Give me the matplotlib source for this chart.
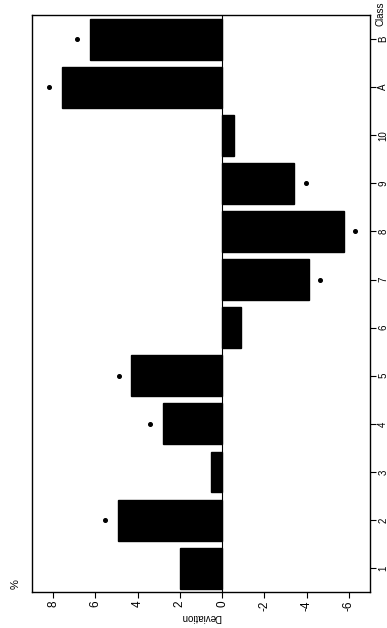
import matplotlib.pyplot as plt
import numpy as np

plt.rcParams['font.family'] = ['Liberation Sans', 'DejaVu Sans']

# Abweichung je Klasse (%), Stern = signifikant
classes = ["1", "2", "3", "4", "5", "6", "7", "8", "9", "10", "A", "B"]
deviation = [2.0, 4.95, 0.55, 2.8, 4.3, -0.9, -4.1, -5.75, -3.4, -0.58, 7.6, 6.27]
significant = [0, 1, 0, 1, 1, 0, 1, 1, 1, 0, 1, 1]
value_ticks = [8, 6, 4, 2, 0, -2, -4, -6]

fig = plt.figure(figsize=(3.87, 6.28), dpi=100)
ax = fig.add_axes([0.083, 0.057, 0.873, 0.919])

pos = np.arange(len(classes))
ax.barh(pos, deviation, height=0.85, color="black", edgecolor="black")
ax.axvline(0, color="black", lw=0.8)

# Sterne hinter den Balken
for p, v, s in zip(pos, deviation, significant):
    if s:
        off = 0.6 if v > 0 else -0.55
        ax.plot(v + off, p, marker="o", ms=2.6, color="black")

# Achsen: gedrehte Darstellung, positive Werte nach links
ax.set_xlim(9, -7)
ax.set_ylim(-0.5, len(classes) - 0.5)
ax.set_xticks(value_ticks)
ax.set_xticklabels([str(t) for t in value_ticks], rotation=90, fontsize=8.5)
ax.set_yticks(pos)
ax.set_yticklabels(classes, rotation=90, fontsize=7, va="center")
ax.yaxis.tick_right()
ax.tick_params(axis="both", length=4, width=0.8, direction="out")
ax.tick_params(axis="y", pad=2)
ax.tick_params(axis="x", pad=2)
for sp in ax.spines.values():
    sp.set_linewidth(1.0)

ax.set_xlabel("Deviation", rotation=180, fontsize=7, labelpad=1)
ax.text(1.032, 1.003, "Class", transform=ax.transAxes, rotation=90,
        fontsize=7, ha="center", va="center")
ax.text(-0.05, 0.014, "%", transform=ax.transAxes, rotation=90,
        fontsize=8, ha="center", va="center")

fig.savefig("out.png", dpi=100)
